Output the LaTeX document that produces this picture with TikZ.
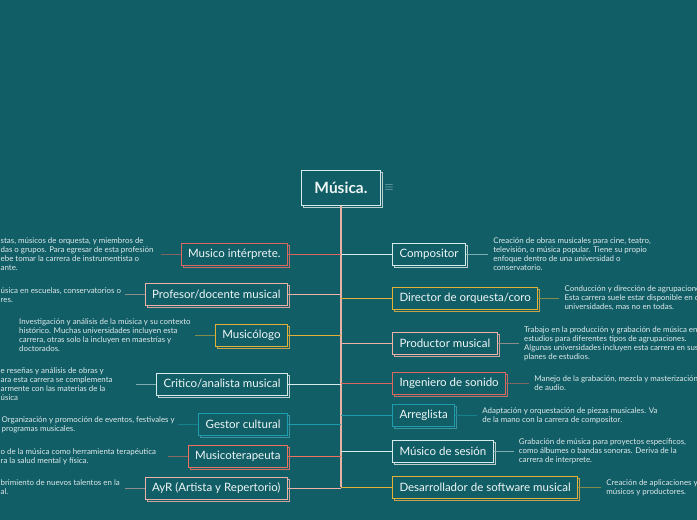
\documentclass[tikz,border=0pt]{standalone}
\usepackage{fontspec}
\setmainfont{Lato}
\usetikzlibrary{positioning,shadows}
\definecolor{mmbg}{RGB}{17,94,103}
\definecolor{mmtext}{RGB}{240,246,246}
\definecolor{mmdesc}{RGB}{222,234,234}
\definecolor{mmred}{RGB}{222,104,96}
\definecolor{mmcoral}{RGB}{240,112,96}
\definecolor{mmpink}{RGB}{240,178,168}
\definecolor{mmgold}{RGB}{228,176,56}
\definecolor{mmlight}{RGB}{214,236,236}
\definecolor{mmteal}{RGB}{28,156,172}
\definecolor{mmtrunk}{RGB}{232,178,162}

\begin{document}
\begin{tikzpicture}[x=1pt, y=-1pt,
  every node/.style={font=\fontsize{11.5}{13}\selectfont, text=mmtext},
  box/.style={draw=#1, line width=1pt, fill=mmbg, inner xsep=7pt, inner ysep=0pt,
    minimum height=22pt,
    copy shadow={shadow xshift=2pt, shadow yshift=-2pt, draw=#1!70!gray, fill=mmbg, line width=1pt}},
  main/.style={draw=mmlight, line width=1pt, fill=mmbg, minimum width=79pt, minimum height=35pt,
    font=\bfseries\fontsize{15.5}{17}\selectfont,
    copy shadow={shadow xshift=2pt, shadow yshift=-2pt, draw=mmlight!70!gray, fill=mmbg, line width=1pt}},
  desc/.style={font=\fontsize{7.9}{9}\selectfont, text=mmdesc, align=left, inner xsep=5pt, inner ysep=0pt},
  ldesc/.style={desc, anchor=west, inner xsep=0pt},
  branch/.style={draw=#1, line width=1pt},
  dline/.style={draw=#1!55!mmbg, line width=0.9pt}]
  \fill[mmbg] (0,0) rectangle (697,520);
  \useasboundingbox (0,0) rectangle (697,520);

  % centre and trunk
  \node[main] (musica) at (341,188) {Música.};
  \node[text=mmdesc!75!mmbg, inner sep=0pt] (menu) at (389,188) {$\equiv$};
  \draw[mmtrunk, line width=1.3pt] (musica.south) -- ++(0,281) coordinate (tend);

  % left side
  \node[box=mmred, anchor=east] (interp) at (288,254) {Musico intérprete.};
  \node[box=mmpink, anchor=east] (docente) at (288,294.5) {Profesor/docente musical};
  \node[box=mmgold, anchor=east] (musicologo) at (288,335) {Musicólogo};
  \node[box=mmlight, anchor=east] (critico) at (288,384) {Critico/analista musical};
  \node[box=mmteal, anchor=east] (gestor) at (288,424) {Gestor cultural};
  \node[box=mmcoral, anchor=east] (terapeuta) at (288,456) {Musicoterapeuta};
  \node[box=mmpink, anchor=east] (ayr) at (288,488) {AyR (Artista y Repertorio)};
  \foreach \n/\c in {interp/mmred, docente/mmpink, musicologo/mmgold, critico/mmlight,
                     gestor/mmteal, terapeuta/mmcoral, ayr/mmpink} {
    \draw[branch=\c] (\n.east) -- (\n.east -| musica.south);
    \draw[dline=\c] (\n.west) -- ++(-20,0) coordinate (\n c);
  }

  \node[ldesc] (interpd) at (0.5,254)
    {stas, músicos de orquesta, y miembros de\\das o grupos. Para egresar de esta profesión\\ebe tomar la carrera de instrumentista o\\ante.};
  \node[ldesc] (docented) at (0.5,295)
    {úsica en escuelas, conservatorios o\\res.};
  \node[ldesc] (musicologod) at (19,335.5)
    {Investigación y análisis de la música y su contexto\\histórico. Muchas universidades incluyen esta\\carrera, otras solo la incluyen en maestrías y\\doctorados.};
  \node[ldesc] (criticod) at (0.5,384)
    {e reseñas y análisis de obras y\\ara esta carrera se complementa\\armente con las materias de la\\úsica};
  \node[ldesc] (gestord) at (1.5,424.5)
    {Organización y promoción de eventos, festivales y\\programas musicales.};
  \node[ldesc] (terapeutad) at (0.5,456.5)
    {o de la música como herramienta terapéutica\\ra la salud mental y física.};
  \node[ldesc] (ayrd) at (0.5,487.5)
    {brimiento de nuevos talentos en la\\al.};

  % right side
  \node[box=mmlight, anchor=west] (compositor) at (392,254) {Compositor};
  \node[box=mmgold, anchor=west] (director) at (392,298.5) {Director de orquesta/coro};
  \node[box=mmpink, anchor=west] (productor) at (392,343.5) {Productor musical};
  \node[box=mmred, anchor=west] (ingeniero) at (392,383.5) {Ingeniero de sonido};
  \node[box=mmteal, anchor=west] (arreglista) at (392,415.5) {Arreglista};
  \node[box=mmlight, anchor=west] (sesion) at (392,451) {Músico de sesión};
  \node[box=mmgold, anchor=west] (software) at (392,487.5) {Desarrollador de software musical};
  \foreach \n/\c in {compositor/mmlight, director/mmgold, productor/mmpink, ingeniero/mmred,
                     arreglista/mmteal, sesion/mmlight, software/mmgold}
    \draw[branch=\c] (\n.west) -- (\n.west -| musica.south);

  \node[desc, right=22pt of compositor] (compositord)
    {Creación de obras musicales para cine, teatro,\\televisión, o música popular. Tiene su propio\\enfoque dentro de una universidad o\\conservatorio.};
  \node[desc, right=21pt of director] (directord)
    {Conducción y dirección de agrupacione\\Esta carrera suele estar disponible en c\\universidades, mas no en todas.};
  \node[desc, right=21pt of productor] (productord)
    {Trabajo en la producción y grabación de música en\\estudios para diferentes tipos de agrupaciones.\\Algunas universidades incluyen esta carrera en sus\\planes de estudios.};
  \node[desc, right=23pt of ingeniero] (ingenierod)
    {Manejo de la grabación, mezcla y masterización\\de audio.};
  \node[desc, right=22pt of arreglista] (arreglistad)
    {Adaptación y orquestación de piezas musicales. Va\\de la mano con la carrera de compositor.};
  \node[desc, right=20pt of sesion] (sesiond)
    {Grabación de música para proyectos específicos,\\como álbumes o bandas sonoras. Deriva de la\\carrera de interprete.};
  \node[desc, right=23pt of software] (softwared)
    {Creación de aplicaciones y\\músicos y productores.};
  \foreach \n/\c in {compositor/mmlight, director/mmgold, productor/mmpink, ingeniero/mmred,
                     arreglista/mmteal, sesion/mmlight, software/mmgold}
    \draw[dline=\c] (\n.east) -- (\n d.west);
\end{tikzpicture}
\end{document}
